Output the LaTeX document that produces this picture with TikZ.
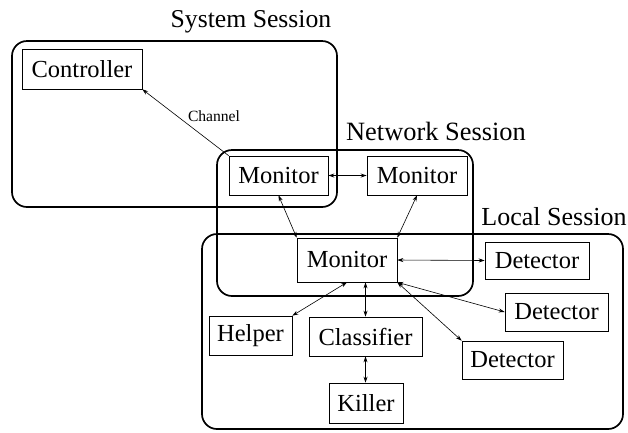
\documentclass[tikz,border=0pt]{standalone}
\usepackage{fontspec}
\setmainfont{Liberation Serif}
\usetikzlibrary{arrows.meta}
\begin{document}
\begin{tikzpicture}[x=1pt,y=-1pt,
  session/.style={draw,line width=1.7pt,rounded corners=15pt},
  title/.style={inner sep=0pt,anchor=base},
  agent/.style={draw,line width=0.6pt,inner sep=0pt,font=\fontsize{24.5}{28}\selectfont},
  link/.style={line width=0.6pt,{Stealth[length=6pt,width=4pt]}-{Stealth[length=6pt,width=4pt]}},
  oneway/.style={line width=0.6pt,-{Stealth[length=6pt,width=4pt]}}]
\useasboundingbox (0,0) rectangle (628,432);

% sessions
\draw[session] (12,41) rectangle (337,207);
\draw[session] (217,150) rectangle (473,296);
\draw[session] (202,234) rectangle (623,429);
\node[title,font=\fontsize{25.7}{30}\selectfont] (tsys) at (251,27) {System Session};
\node[title,font=\fontsize{26.4}{30}\selectfont] (tnet) at (436,140) {Network Session};
\node[title,font=\fontsize{26}{30}\selectfont] (tloc) at (554,225) {Local Session};

% agents
\node[agent,minimum width=120pt,minimum height=40pt] (ctrl) at (82,69) {Controller};
\node[agent,minimum width=99pt,minimum height=39pt] (m1) at (278.5,175.5) {Monitor};
\node[agent,minimum width=100pt,minimum height=39pt] (m2) at (417,175.5) {Monitor};
\node[agent,minimum width=100pt,minimum height=44pt] (m3) at (347,260) {Monitor};
\node[agent,minimum width=104pt,minimum height=37pt] (d1) at (537,260.5) {Detector};
\node[agent,minimum width=103pt,minimum height=38pt] (d2) at (556.5,312) {Detector};
\node[agent,minimum width=101pt,minimum height=38pt] (d3) at (512.5,360) {Detector};
\node[agent,minimum width=83pt,minimum height=39pt] (hlp) at (250.5,335.5) {Helper};
\node[agent,minimum width=113pt,minimum height=39pt] (cls) at (365.5,336.5) {Classifier};
\node[agent,minimum width=74pt,minimum height=40pt] (kil) at (366,403) {Killer};

% channels
\draw[oneway] (m1.north west) -- (ctrl.south east);
\node[font=\fontsize{15.6}{18}\selectfont,inner sep=0pt] (chl) at (214,116) {Channel};
\draw[link,line width=1.2pt] (m1.east) -- (m2.west);
\draw[link] (m1.south) -- (m3.north west);
\draw[link] (m2.south) -- (m3.north east);
\draw[link] (m3.east) -- (d1.west);
\draw[link] (m3.south east) -- (d2.west);
\draw[link] (m3.south east) -- (d3.north west);
\draw[link] (m3.south) -- (hlp.north east);
\draw[link] (cls.north |- m3.south) -- (cls.north);
\draw[link] (cls.south) -- (cls.south |- kil.north);
\end{tikzpicture}
\end{document}
